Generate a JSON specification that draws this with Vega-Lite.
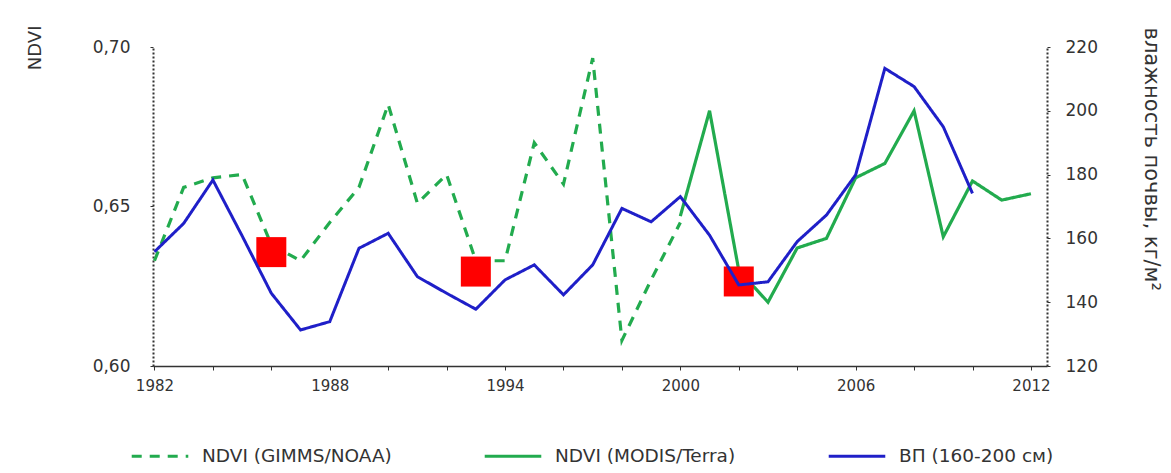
{
  "$schema": "https://vega.github.io/schema/vega-lite/v6.json",
  "width": 894,
  "height": 319,
  "autosize": {"type": "none"},
  "padding": {"left": 153, "top": 47, "right": 124, "bottom": 107},
  "background": "white",
  "config": {
    "view": {"stroke": null},
    "font": "DejaVu Sans",
    "axis": {
      "labelFont": "DejaVu Sans",
      "labelFontSize": 15,
      "labelColor": "#333333",
      "titleFont": "DejaVu Sans",
      "titleFontWeight": "normal",
      "titleColor": "#333333",
      "domainColor": "#333333",
      "tickColor": "#333333",
      "grid": false
    },
    "legend": {
      "labelFont": "DejaVu Sans",
      "labelFontSize": 18.5,
      "labelColor": "#333333",
      "labelLimit": 400
    }
  },
  "datasets": {
    "ndvi": [
      {"year": 1982, "series": "NDVI (GIMMS/NOAA)", "value": 0.633},
      {"year": 1983, "series": "NDVI (GIMMS/NOAA)", "value": 0.656},
      {"year": 1984, "series": "NDVI (GIMMS/NOAA)", "value": 0.659},
      {"year": 1985, "series": "NDVI (GIMMS/NOAA)", "value": 0.660},
      {"year": 1986, "series": "NDVI (GIMMS/NOAA)", "value": 0.638},
      {"year": 1987, "series": "NDVI (GIMMS/NOAA)", "value": 0.633},
      {"year": 1988, "series": "NDVI (GIMMS/NOAA)", "value": 0.645},
      {"year": 1989, "series": "NDVI (GIMMS/NOAA)", "value": 0.656},
      {"year": 1990, "series": "NDVI (GIMMS/NOAA)", "value": 0.682},
      {"year": 1991, "series": "NDVI (GIMMS/NOAA)", "value": 0.651},
      {"year": 1992, "series": "NDVI (GIMMS/NOAA)", "value": 0.660},
      {"year": 1993, "series": "NDVI (GIMMS/NOAA)", "value": 0.633},
      {"year": 1994, "series": "NDVI (GIMMS/NOAA)", "value": 0.633},
      {"year": 1995, "series": "NDVI (GIMMS/NOAA)", "value": 0.670},
      {"year": 1996, "series": "NDVI (GIMMS/NOAA)", "value": 0.657},
      {"year": 1997, "series": "NDVI (GIMMS/NOAA)", "value": 0.6965},
      {"year": 1998, "series": "NDVI (GIMMS/NOAA)", "value": 0.608},
      {"year": 1999, "series": "NDVI (GIMMS/NOAA)", "value": 0.627},
      {"year": 2000, "series": "NDVI (GIMMS/NOAA)", "value": 0.645},
      {"year": 2000, "series": "NDVI (MODIS/Terra)", "value": 0.647},
      {"year": 2001, "series": "NDVI (MODIS/Terra)", "value": 0.680},
      {"year": 2002, "series": "NDVI (MODIS/Terra)", "value": 0.630},
      {"year": 2003, "series": "NDVI (MODIS/Terra)", "value": 0.620},
      {"year": 2004, "series": "NDVI (MODIS/Terra)", "value": 0.637},
      {"year": 2005, "series": "NDVI (MODIS/Terra)", "value": 0.640},
      {"year": 2006, "series": "NDVI (MODIS/Terra)", "value": 0.659},
      {"year": 2007, "series": "NDVI (MODIS/Terra)", "value": 0.6635},
      {"year": 2008, "series": "NDVI (MODIS/Terra)", "value": 0.680},
      {"year": 2009, "series": "NDVI (MODIS/Terra)", "value": 0.6405},
      {"year": 2010, "series": "NDVI (MODIS/Terra)", "value": 0.658},
      {"year": 2011, "series": "NDVI (MODIS/Terra)", "value": 0.652},
      {"year": 2012, "series": "NDVI (MODIS/Terra)", "value": 0.654}
    ],
    "vp": [
      {"year": 1982, "series": "ВП (160-200 см)", "value": 155.8},
      {"year": 1983, "series": "ВП (160-200 см)", "value": 164.7},
      {"year": 1984, "series": "ВП (160-200 см)", "value": 178.3},
      {"year": 1985, "series": "ВП (160-200 см)", "value": 160.8},
      {"year": 1986, "series": "ВП (160-200 см)", "value": 142.8},
      {"year": 1987, "series": "ВП (160-200 см)", "value": 131.3},
      {"year": 1988, "series": "ВП (160-200 см)", "value": 133.9},
      {"year": 1989, "series": "ВП (160-200 см)", "value": 156.9},
      {"year": 1990, "series": "ВП (160-200 см)", "value": 161.6},
      {"year": 1991, "series": "ВП (160-200 см)", "value": 148.0},
      {"year": 1992, "series": "ВП (160-200 см)", "value": 142.8},
      {"year": 1993, "series": "ВП (160-200 см)", "value": 137.8},
      {"year": 1994, "series": "ВП (160-200 см)", "value": 147.0},
      {"year": 1995, "series": "ВП (160-200 см)", "value": 151.7},
      {"year": 1996, "series": "ВП (160-200 см)", "value": 142.3},
      {"year": 1997, "series": "ВП (160-200 см)", "value": 151.7},
      {"year": 1998, "series": "ВП (160-200 см)", "value": 169.4},
      {"year": 1999, "series": "ВП (160-200 см)", "value": 165.2},
      {"year": 2000, "series": "ВП (160-200 см)", "value": 173.1},
      {"year": 2001, "series": "ВП (160-200 см)", "value": 161.0},
      {"year": 2002, "series": "ВП (160-200 см)", "value": 145.4},
      {"year": 2003, "series": "ВП (160-200 см)", "value": 146.4},
      {"year": 2004, "series": "ВП (160-200 см)", "value": 159.0},
      {"year": 2005, "series": "ВП (160-200 см)", "value": 167.3},
      {"year": 2006, "series": "ВП (160-200 см)", "value": 179.9},
      {"year": 2007, "series": "ВП (160-200 см)", "value": 213.3},
      {"year": 2008, "series": "ВП (160-200 см)", "value": 207.6},
      {"year": 2009, "series": "ВП (160-200 см)", "value": 195.0},
      {"year": 2010, "series": "ВП (160-200 см)", "value": 174.1}
    ],
    "droughts": [
      {"year": 1986, "value": 0.6357},
      {"year": 1993, "value": 0.6296},
      {"year": 2002, "value": 0.6265}
    ]
  },
  "layer": [
    {
      "layer": [
        {
          "data": {"name": "ndvi"},
          "mark": {"type": "line", "strokeWidth": 3.2},
          "encoding": {
            "x": {
              "field": "year",
              "type": "quantitative",
              "scale": {"domain": [1981.95, 2012.55], "nice": false, "zero": false},
              "axis": {
                "title": null,
                "values": [1982, 1983, 1984, 1985, 1986, 1987, 1988, 1989, 1990, 1991, 1992, 1993, 1994, 1995, 1996, 1997, 1998, 1999, 2000, 2001, 2002, 2003, 2004, 2005, 2006, 2007, 2008, 2009, 2010, 2011, 2012],
                "labelExpr": "(datum.value - 1982) % 6 == 0 ? '' + datum.value : ''",
                "labelOverlap": false,
                "labelFlush": false,
                "labelPadding": 8,
                "tickSize": 4,
                "domainWidth": 1.5
              }
            },
            "y": {
              "field": "value",
              "type": "quantitative",
              "scale": {"domain": [0.6, 0.7], "nice": false, "zero": false},
              "axis": {
                "orient": "left",
                "values": [0.6, 0.65, 0.7],
                "labelExpr": "replace(format(datum.value, '.2f'), '.', ',')",
                "labelFontSize": 17,
                "labelPadding": 20,
                "tickSize": 3,
                "domainDash": [2, 2],
                "domainWidth": 2,
                "title": "NDVI",
                "titleFontSize": 18,
                "titleAngle": -90,
                "titleAlign": "right",
                "titleBaseline": "middle",
                "titleX": -118,
                "titleY": -22
              }
            },
            "color": {
              "field": "series",
              "type": "nominal",
              "title": null,
              "scale": {
                "domain": ["NDVI (GIMMS/NOAA)", "NDVI (MODIS/Terra)", "ВП (160-200 см)"],
                "range": ["#22ab4e", "#22ab4e", "#1f1fc8"]
              },
              "legend": {
                "orient": "none",
                "legendX": -23,
                "legendY": 379,
                "direction": "horizontal",
                "symbolType": "stroke",
                "symbolSize": 3200,
                "symbolStrokeWidth": 3,
                "labelOffset": 12,
                "columnPadding": 86
              }
            },
            "strokeDash": {
              "field": "series",
              "type": "nominal",
              "title": null,
              "scale": {
                "domain": ["NDVI (GIMMS/NOAA)", "NDVI (MODIS/Terra)", "ВП (160-200 см)"],
                "range": [[10, 8], [1, 0], [1, 0]]
              }
            }
          }
        },
        {
          "data": {"name": "droughts"},
          "mark": {"type": "point", "shape": "square", "filled": true, "size": 900, "color": "#ff0000", "opacity": 1},
          "encoding": {
            "x": {"field": "year", "type": "quantitative"},
            "y": {"field": "value", "type": "quantitative"}
          }
        }
      ]
    },
    {
      "data": {"name": "vp"},
      "mark": {"type": "line", "strokeWidth": 3},
      "encoding": {
        "x": {"field": "year", "type": "quantitative"},
        "y": {
          "field": "value",
          "type": "quantitative",
          "scale": {"domain": [120, 220], "nice": false, "zero": false},
          "axis": {
            "orient": "right",
            "values": [120, 140, 160, 180, 200, 220],
            "labelFontSize": 17,
            "labelPadding": 15,
            "tickSize": 3,
            "domainDash": [2, 2],
            "domainWidth": 2,
            "title": "влажность почвы, кг/м²",
            "titleFontSize": 21,
            "titleAngle": 90,
            "titleAlign": "left",
            "titleBaseline": "middle",
            "titleX": 103,
            "titleY": -20
          }
        },
        "color": {"field": "series", "type": "nominal", "title": null},
        "strokeDash": {"field": "series", "type": "nominal", "title": null}
      }
    }
  ],
  "resolve": {"scale": {"y": "independent"}}
}
